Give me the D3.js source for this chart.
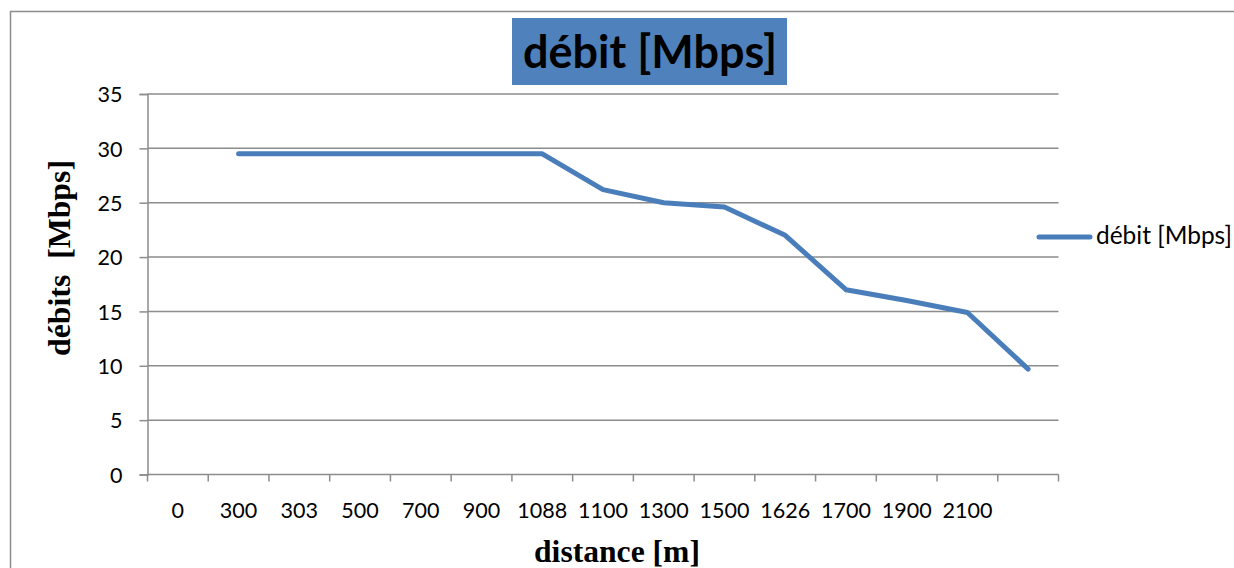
<!DOCTYPE html>
<html>
<head>
<meta charset="utf-8">
<script src="https://cdn.jsdelivr.net/npm/d3@7"></script>
<style>
  html, body { margin: 0; padding: 0; background: #fff; overflow: hidden; }
  svg { display: block; }
</style>
</head>
<body>
<svg id="chart" width="1234" height="568"></svg>
<script>
// Distance categories along the x axis (the last slot carries no label)
const categories = ["0", "300", "303", "500", "700", "900", "1088", "1100",
                    "1300", "1500", "1626", "1700", "1900", "2100", ""];
// Throughput per category slot, in Mbps
const debit = [null, 29.5, 29.5, 29.5, 29.5, 29.5, 29.5, 26.2,
               25.0, 24.6, 22.0, 17.0, 16.0, 14.9, 9.7];
const yTicks = [0, 5, 10, 15, 20, 25, 30, 35];

const seriesName = "débit [Mbps]";
const chartTitle = "débit [Mbps]";
const xTitle = "distance [m]";
const yTitle = "débits  [Mbps]";

const svg = d3.select("#chart");
const blue = "#4a7ebb";
const gridColor = "#8c8c8c";
const sans = "Lato, 'Noto Sans', sans-serif";
const serif = "'Liberation Serif', 'DejaVu Serif', serif";

// fit a text element's font size so its rendered width equals target
function fitWidth(sel, target) {
  const n = sel.node();
  const fs = parseFloat(sel.attr("font-size"));
  const w = n.getComputedTextLength();
  sel.attr("font-size", (fs * target / w).toFixed(2));
  return sel;
}

// tick-label size: a four-digit label spans about 50px
const probe = svg.append("text").attr("font-family", sans).attr("font-size", 20).text("1088");
fitWidth(probe, 50);
const tickFont = +probe.attr("font-size");
probe.remove();

// chart area frame
svg.append("rect")
  .attr("x", 10.5).attr("y", 11.5)
  .attr("width", 1240).attr("height", 600)
  .attr("fill", "none").attr("stroke", gridColor).attr("stroke-width", 1.5);

const plot = { left: 147.5, right: 1058.5, top: 94, bottom: 474.5 };

const x = d3.scaleBand().domain(d3.range(categories.length))
  .range([plot.left, plot.right]).padding(0);
const y = d3.scaleLinear().domain([0, 35]).range([plot.bottom, plot.top]);

// horizontal gridlines
svg.append("g").selectAll("line").data(yTicks.filter(d => d > 0)).join("line")
  .attr("x1", plot.left).attr("x2", plot.right)
  .attr("y1", d => y(d)).attr("y2", d => y(d))
  .attr("stroke", gridColor).attr("stroke-width", 1.5);

// value axis with left tick stubs
const yAxis = d3.axisLeft(y).tickValues(yTicks).tickSize(8).tickPadding(17)
  .tickFormat(d3.format("d"));
const gy = svg.append("g").attr("transform", `translate(${plot.left},0)`).call(yAxis);
gy.select(".domain").attr("stroke", gridColor).attr("stroke-width", 1.5);
gy.selectAll(".tick line").attr("stroke", gridColor).attr("stroke-width", 1.5);
gy.selectAll(".tick text").attr("font-family", sans).attr("font-size", tickFont)
  .attr("fill", "#000").attr("dy", "0.36em");

// category axis: ticks at slot boundaries, labels centred in each slot
const gx = svg.append("g").attr("transform", `translate(0,${plot.bottom})`);
gx.append("line").attr("x1", plot.left).attr("x2", plot.right)
  .attr("stroke", gridColor).attr("stroke-width", 1.5);
const bounds = d3.range(categories.length + 1)
  .map(i => i < categories.length ? x(i) : x(categories.length - 1) + x.bandwidth());
gx.selectAll("line.tk").data(bounds).join("line").attr("class", "tk")
  .attr("x1", d => d).attr("x2", d => d).attr("y1", 0).attr("y2", 7)
  .attr("stroke", gridColor).attr("stroke-width", 1.5);
gx.selectAll("text").data(categories).join("text")
  .attr("x", (d, i) => x(i) + x.bandwidth() / 2).attr("y", 43)
  .attr("text-anchor", "middle").attr("font-family", sans).attr("font-size", tickFont)
  .attr("fill", "#000").text(d => d);

// the series line
const line = d3.line()
  .defined(d => d != null)
  .x((d, i) => x(i) + x.bandwidth() / 2)
  .y(d => y(d));
svg.append("path").datum(debit)
  .attr("d", line).attr("fill", "none").attr("stroke", blue)
  .attr("stroke-width", 5).attr("stroke-linejoin", "round").attr("stroke-linecap", "round");

// title on a blue box
svg.append("rect").attr("x", 512).attr("y", 18).attr("width", 275).attr("height", 67)
  .attr("fill", "#4f81bd");
const t = svg.append("text").attr("x", 650).attr("y", 68).attr("text-anchor", "middle")
  .attr("font-family", sans).attr("font-weight", 700).attr("font-size", 44)
  .attr("fill", "#000").text(chartTitle);
fitWidth(t, 254);

// legend
svg.append("line").attr("x1", 1039).attr("x2", 1090).attr("y1", 237).attr("y2", 237)
  .attr("stroke", blue).attr("stroke-width", 5).attr("stroke-linecap", "round");
const lg = svg.append("text").attr("x", 1096).attr("y", 244)
  .attr("font-family", sans).attr("font-size", 21).attr("fill", "#000").text(seriesName);
fitWidth(lg, 136);

// axis titles
const xt = svg.append("text").attr("x", 617).attr("y", 562).attr("text-anchor", "middle")
  .attr("font-family", serif).attr("font-weight", 700).attr("font-size", 30)
  .attr("fill", "#000").text(xTitle);
fitWidth(xt, 166);

const yt = svg.append("text").attr("transform", "translate(70,258) rotate(-90)")
  .attr("text-anchor", "middle").attr("font-family", serif).attr("font-weight", 700)
  .attr("font-size", 30).attr("fill", "#000").attr("xml:space", "preserve").text(yTitle);
fitWidth(yt, 196);
</script>
</body>
</html>
